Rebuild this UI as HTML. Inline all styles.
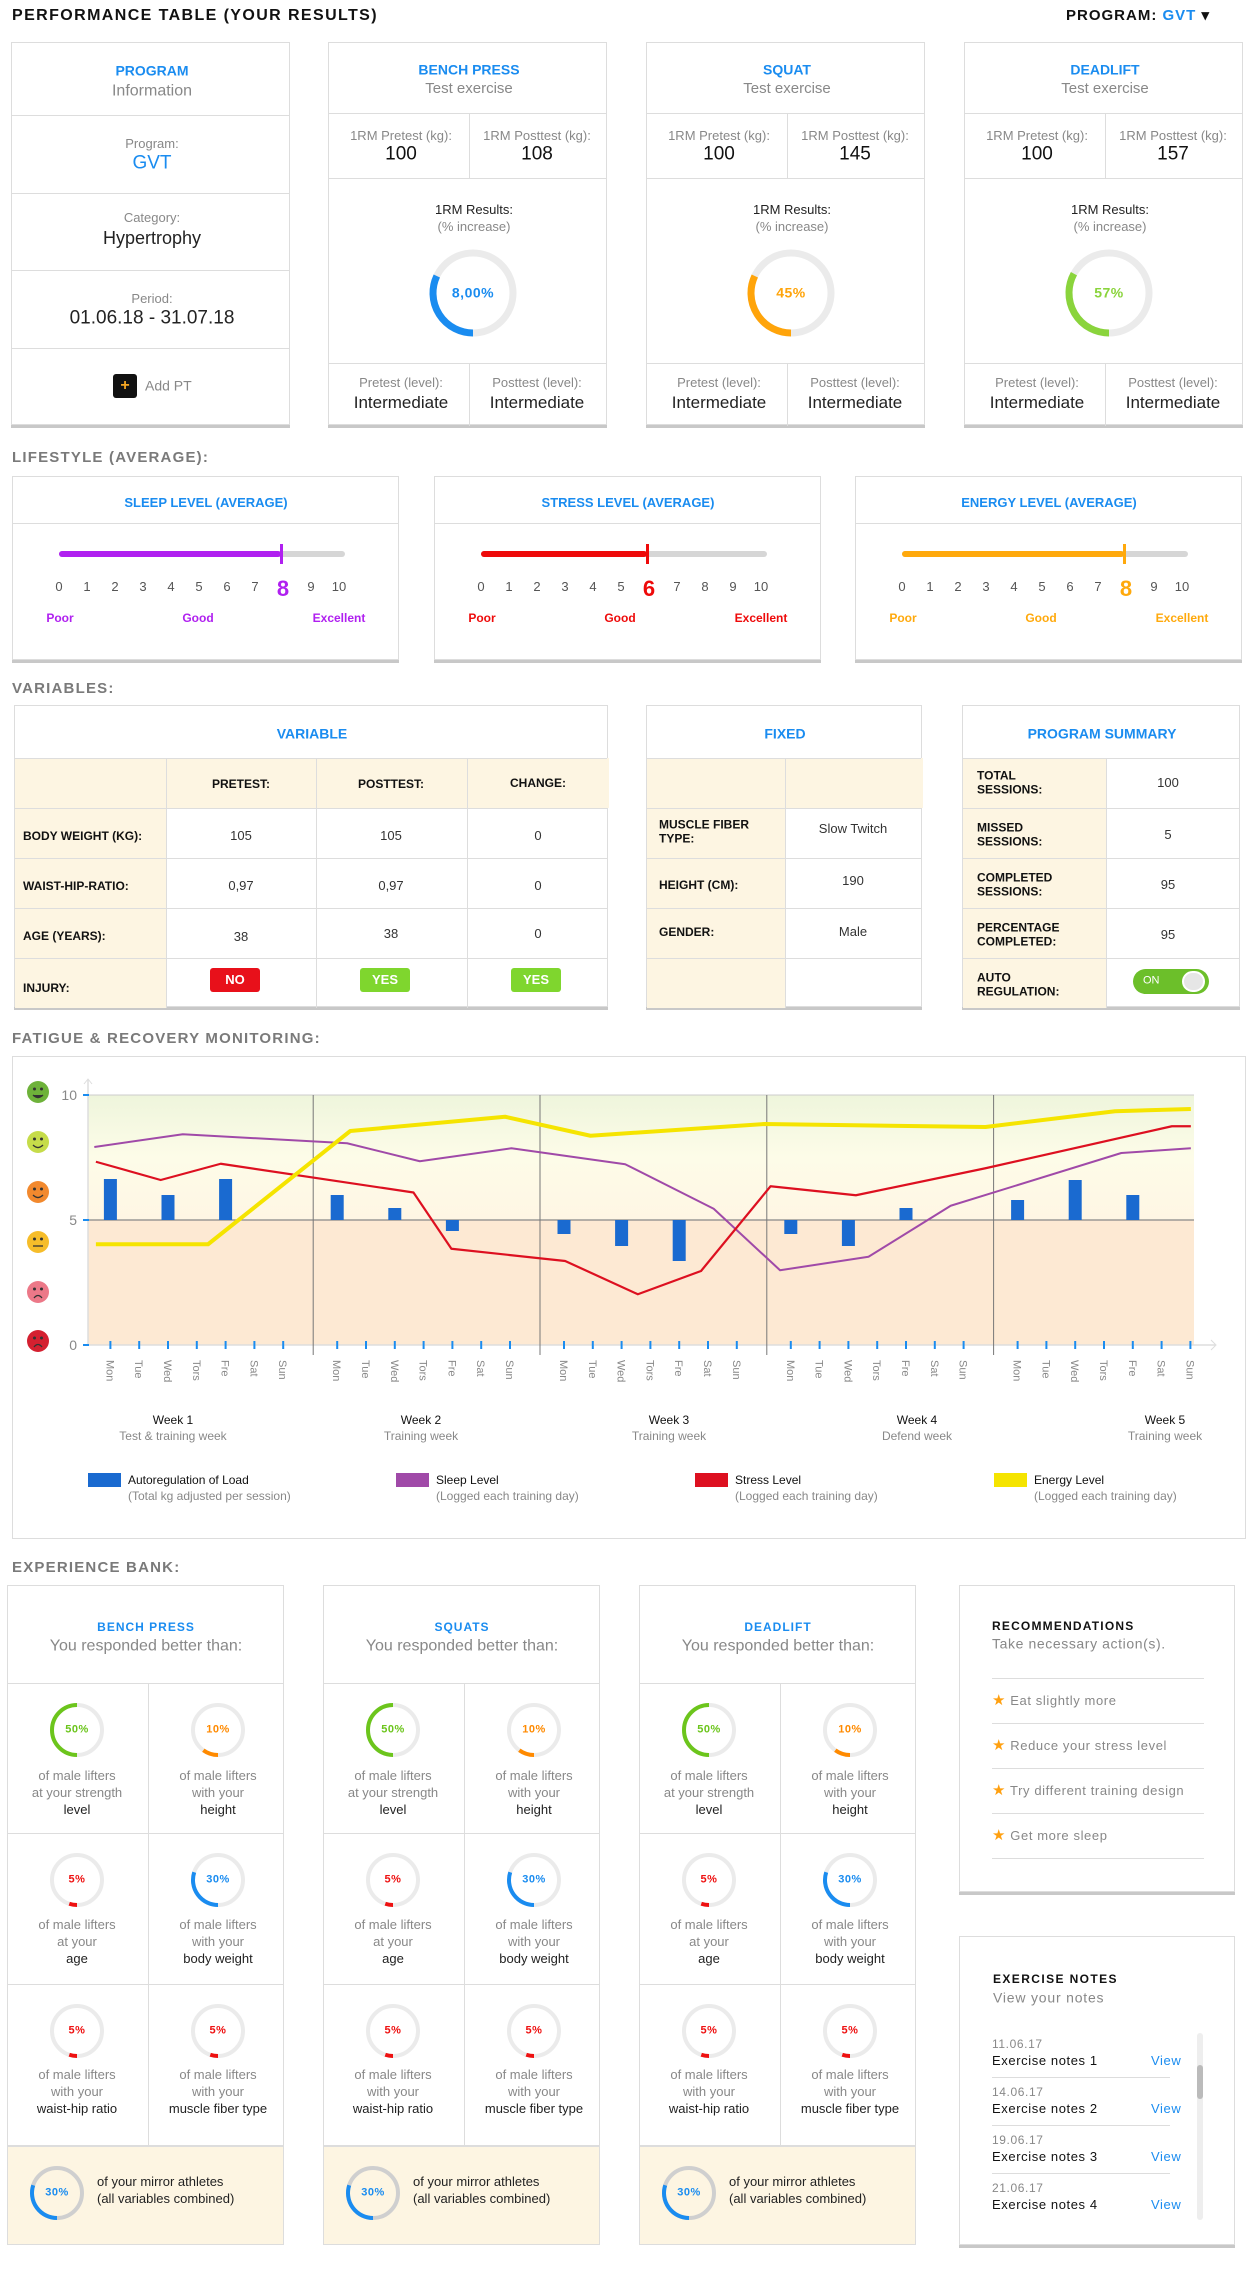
<!DOCTYPE html>
<html><head><meta charset="utf-8"><style>
*{box-sizing:border-box;margin:0;padding:0}
body{width:1250px;height:2270px;background:#fff;position:relative;overflow:hidden;font-family:"Liberation Sans Narrow","Liberation Sans",sans-serif;color:#222}
.a{position:absolute}
.t{position:absolute;white-space:nowrap;transform:translate(-50%,-50%);text-align:center;line-height:1.2}
.tl{position:absolute;white-space:nowrap;transform:translateY(-50%);line-height:1.2}
.card{position:absolute;background:#fff;border:1px solid #ddd;box-shadow:0 3px 0 #c8c8c8}
.h{font-family:"Liberation Sans",sans-serif;font-weight:bold;letter-spacing:1px}
.sec{position:absolute;left:12px;font-family:"Liberation Sans",sans-serif;font-weight:bold;color:#7a7a7a;font-size:15px;letter-spacing:1.2px}
.blue{color:#1a8cf0}
.gray{color:#888}
.hl{position:absolute;height:1px;background:#ddd}
.vl{position:absolute;width:1px;background:#ddd}
.cream{position:absolute;background:#fdf5e2}
.lab{font-size:13px;color:#888}
.val{font-size:19px;color:#111}
.cell{font-size:12px;font-weight:bold;color:#111}
.tv{font-size:13px;color:#333}
</style></head><body>

<!-- Header -->
<div class="a h" style="left:12px;top:7px;font-size:16px;color:#111;letter-spacing:1.4px">PERFORMANCE TABLE (YOUR RESULTS)</div>
<div class="a h" style="left:1066px;top:6px;font-size:15px;color:#111;letter-spacing:1px">PROGRAM: <span class="blue">GVT</span> ▾</div>

<!-- Program info card -->
<div class="card" style="left:11px;top:42px;width:279px;height:383px">
 <div class="hl" style="left:0;right:0;top:72px"></div>
 <div class="hl" style="left:0;right:0;top:150px"></div>
 <div class="hl" style="left:0;right:0;top:227px"></div>
 <div class="hl" style="left:0;right:0;top:305px"></div>
 <div class="t h blue" style="left:140px;top:28px;font-size:14px;letter-spacing:0">PROGRAM</div>
 <div class="t gray" style="left:140px;top:48px;font-size:16px">Information</div>
 <div class="t lab" style="left:140px;top:101px">Program:</div>
 <div class="t blue" style="left:140px;top:121px;font-size:19px">GVT</div>
 <div class="t lab" style="left:140px;top:175px">Category:</div>
 <div class="t" style="left:140px;top:196px;font-size:18px">Hypertrophy</div>
 <div class="t lab" style="left:140px;top:256px">Period:</div>
 <div class="t" style="left:140px;top:276px;font-size:19px">01.06.18 - 31.07.18</div>
 <div class="a" style="left:101px;top:331px;width:24px;height:24px;background:#111;border-radius:3px;color:#f5a623;font-weight:bold;font-size:16px;text-align:center;line-height:24px">+</div>
 <div class="tl gray" style="left:133px;top:343px;font-size:14px">Add PT</div>
</div>

<!-- Exercise cards -->
<div id="excards"></div>

<!-- Lifestyle -->
<div class="sec" style="top:449px">LIFESTYLE (AVERAGE):</div>
<div id="lifestyle"></div>

<!-- Variables -->
<div class="sec" style="top:680px">VARIABLES:</div>

<div class="card" style="left:14px;top:705px;width:594px;height:302px">
 <div class="cream" style="left:0;top:52px;width:594px;height:50px"></div>
 <div class="cream" style="left:0;top:52px;width:151px;height:250px"></div>
 <div class="hl" style="left:0;right:0;top:52px"></div><div class="hl" style="left:0;right:0;top:102px"></div>
 <div class="hl" style="left:0;right:0;top:152px"></div><div class="hl" style="left:0;right:0;top:202px"></div><div class="hl" style="left:0;right:0;top:252px"></div>
 <div class="vl" style="left:151px;top:52px;height:250px"></div><div class="vl" style="left:301px;top:52px;height:250px"></div><div class="vl" style="left:452px;top:52px;height:250px"></div>
 <div class="t h blue" style="left:297px;top:28px;font-size:14px;letter-spacing:0">VARIABLE</div>
 <div class="t cell" style="left:226px;top:78px">PRETEST:</div><div class="t cell" style="left:376px;top:78px">POSTTEST:</div><div class="t cell" style="left:523px;top:77px">CHANGE:</div>
 <div class="tl cell" style="left:8px;top:130px">BODY WEIGHT (KG):</div><div class="t tv" style="left:226px;top:130px">105</div><div class="t tv" style="left:376px;top:130px">105</div><div class="t tv" style="left:523px;top:130px">0</div>
 <div class="tl cell" style="left:8px;top:180px">WAIST-HIP-RATIO:</div><div class="t tv" style="left:226px;top:180px">0,97</div><div class="t tv" style="left:376px;top:180px">0,97</div><div class="t tv" style="left:523px;top:180px">0</div>
 <div class="tl cell" style="left:8px;top:230px">AGE (YEARS):</div><div class="t tv" style="left:226px;top:231px">38</div><div class="t tv" style="left:376px;top:228px">38</div><div class="t tv" style="left:523px;top:228px">0</div>
 <div class="tl cell" style="left:8px;top:282px">INJURY:</div>
 <div class="t" style="left:220px;top:274px;width:50px;height:24px;background:#e8101a;color:#fff;font-weight:bold;font-size:13px;line-height:24px;border-radius:3px;transform:translate(-50%,-50%)">NO</div>
 <div class="t" style="left:370px;top:274px;width:50px;height:24px;background:#7fd62e;color:#fff;font-weight:bold;font-size:13px;line-height:24px;border-radius:3px">YES</div>
 <div class="t" style="left:521px;top:274px;width:50px;height:24px;background:#7fd62e;color:#fff;font-weight:bold;font-size:13px;line-height:24px;border-radius:3px">YES</div>
</div>

<div class="card" style="left:646px;top:705px;width:276px;height:302px">
 <div class="cream" style="left:0;top:52px;width:276px;height:50px"></div>
 <div class="cream" style="left:0;top:52px;width:138px;height:250px"></div>
 <div class="hl" style="left:0;right:0;top:52px"></div><div class="hl" style="left:0;right:0;top:102px"></div>
 <div class="hl" style="left:0;right:0;top:152px"></div><div class="hl" style="left:0;right:0;top:202px"></div><div class="hl" style="left:0;right:0;top:252px"></div>
 <div class="vl" style="left:138px;top:52px;height:250px"></div>
 <div class="t h blue" style="left:138px;top:28px;font-size:14px;letter-spacing:0">FIXED</div>
 <div class="tl cell" style="left:12px;top:126px">MUSCLE FIBER<br>TYPE:</div><div class="t tv" style="left:206px;top:123px">Slow Twitch</div>
 <div class="tl cell" style="left:12px;top:179px">HEIGHT (CM):</div><div class="t tv" style="left:206px;top:175px">190</div>
 <div class="tl cell" style="left:12px;top:226px">GENDER:</div><div class="t tv" style="left:206px;top:226px">Male</div>
</div>

<div class="card" style="left:962px;top:705px;width:278px;height:302px">
 <div class="cream" style="left:0;top:52px;width:143px;height:250px"></div>
 <div class="hl" style="left:0;right:0;top:52px"></div><div class="hl" style="left:0;right:0;top:102px"></div>
 <div class="hl" style="left:0;right:0;top:152px"></div><div class="hl" style="left:0;right:0;top:202px"></div><div class="hl" style="left:0;right:0;top:252px"></div>
 <div class="vl" style="left:143px;top:52px;height:250px"></div>
 <div class="t h blue" style="left:139px;top:28px;font-size:14px;letter-spacing:0">PROGRAM SUMMARY</div>
 <div class="tl cell" style="left:14px;top:77px">TOTAL<br>SESSIONS:</div><div class="t tv gray" style="left:205px;top:77px">100</div>
 <div class="tl cell" style="left:14px;top:129px">MISSED<br>SESSIONS:</div><div class="t tv gray" style="left:205px;top:129px">5</div>
 <div class="tl cell" style="left:14px;top:179px">COMPLETED<br>SESSIONS:</div><div class="t tv gray" style="left:205px;top:179px">95</div>
 <div class="tl cell" style="left:14px;top:229px">PERCENTAGE<br>COMPLETED:</div><div class="t tv gray" style="left:205px;top:229px">95</div>
 <div class="tl cell" style="left:14px;top:279px">AUTO<br>REGULATION:</div>
 <div class="a" style="left:170px;top:263px;width:76px;height:25px;border-radius:13px;background:#6cbf2a">
  <div class="tl" style="left:10px;top:12px;color:#fff;font-size:11px">ON</div>
  <div class="a" style="left:49px;top:2px;width:23px;height:21px;border-radius:11px;background:#e6e6e6;border:2px solid #fff"></div>
 </div>
</div>

<!-- Fatigue chart -->
<div class="sec" style="top:1030px">FATIGUE &amp; RECOVERY MONITORING:</div>
<div class="a" style="left:12px;top:1056px;width:1234px;height:483px;border:1px solid #ddd"></div>
<svg id="chart" class="a" style="left:0;top:1050px" width="1250" height="500" viewBox="0 1050 1250 500">
 <defs><linearGradient id="gU" x1="0" y1="0" x2="0" y2="1"><stop offset="0" stop-color="#eef5dc"/><stop offset="0.5" stop-color="#fdfce8"/><stop offset="1" stop-color="#fff6e4"/></linearGradient></defs>
</svg>

<!-- Experience bank -->
<div class="sec" style="top:1559px">EXPERIENCE BANK:</div>
<div id="exp"></div>

<div class="card" style="left:959px;top:1585px;width:276px;height:307px">
 <div class="tl h" style="left:32px;top:40px;font-size:12px;color:#111;letter-spacing:1.2px">RECOMMENDATIONS</div>
 <div class="tl gray" style="left:32px;top:58px;font-size:14px;letter-spacing:0.6px">Take necessary action(s).</div>
 <div id="recs"></div>
</div>

<div class="card" style="left:959px;top:1936px;width:276px;height:309px">
 <div class="tl h" style="left:33px;top:42px;font-size:12px;color:#111;letter-spacing:1.4px">EXERCISE NOTES</div>
 <div class="tl gray" style="left:33px;top:61px;font-size:14px;letter-spacing:0.8px">View your notes</div>
 <div id="notes"></div>
 <div class="a" style="left:237px;top:96px;width:6px;height:187px;background:#eee;border-radius:3px"></div>
 <div class="a" style="left:237px;top:128px;width:6px;height:34px;background:#bbb;border-radius:3px"></div>
</div>

<script>
// ---------- exercise cards ----------
const exNames=['BENCH PRESS','SQUAT','DEADLIFT'];
const exPre=[100,100,100];
const exPost=[108,145,157];
const exPct=['8,00%','45%','57%'];
const exArc=[0.32,0.32,0.33];
const exColors=['#1a8cf0','#ffa40a','#8ad43c'];
const exLeft=[328,646,964];
function arcPath(cx,cy,r,frac){
 // start at bottom, clockwise (bottom->left->top)
 const a0=Math.PI/2, a1=Math.PI/2+frac*2*Math.PI;
 const x0=cx+r*Math.cos(a0),y0=cy+r*Math.sin(a0),x1=cx+r*Math.cos(a1),y1=cy+r*Math.sin(a1);
 if(frac>=0.999) return `M${cx} ${cy-r}A${r} ${r} 0 1 1 ${cx-0.01} ${cy-r}`;
 return `M${x0} ${y0}A${r} ${r} 0 ${frac>0.5?1:0} 1 ${x1} ${y1}`;
}
function ring(cx,cy,r,w,frac,col,bg){
 return `<svg class="a" style="left:${cx-r-w}px;top:${cy-r-w}px" width="${2*r+2*w}" height="${2*r+2*w}" viewBox="${cx-r-w} ${cy-r-w} ${2*r+2*w} ${2*r+2*w}"><circle cx="${cx}" cy="${cy}" r="${r}" fill="none" stroke="${bg}" stroke-width="${w}"/><path d="${arcPath(cx,cy,r,frac)}" fill="none" stroke="${col}" stroke-width="${w}"/></svg>`;
}
let h='';
exNames.forEach((n,i)=>{
 h+=`<div class="card" style="left:${exLeft[i]}px;top:42px;width:279px;height:383px">
 <div class="hl" style="left:0;right:0;top:70px"></div><div class="hl" style="left:0;right:0;top:135px"></div><div class="hl" style="left:0;right:0;top:320px"></div>
 <div class="vl" style="left:140px;top:70px;height:65px"></div><div class="vl" style="left:140px;top:320px;height:63px"></div>
 <div class="t h blue" style="left:140px;top:27px;font-size:14px;letter-spacing:0">${n}</div>
 <div class="t gray" style="left:140px;top:46px;font-size:15px">Test exercise</div>
 <div class="t lab" style="left:72px;top:93px">1RM Pretest (kg):</div><div class="t val" style="left:72px;top:112px">${exPre[i]}</div>
 <div class="t lab" style="left:208px;top:93px">1RM Posttest (kg):</div><div class="t val" style="left:208px;top:112px">${exPost[i]}</div>
 <div class="t" style="left:145px;top:167px;font-size:13px">1RM Results:</div>
 <div class="t lab" style="left:145px;top:184px">(% increase)</div>
 ${ring(144,250,40,7,exArc[i],exColors[i],'#ebebeb')}
 <div class="t h" style="left:144px;top:250px;font-size:14px;color:${exColors[i]};letter-spacing:0.5px">${exPct[i]}</div>
 <div class="t lab" style="left:72px;top:340px">Pretest (level):</div><div class="t" style="left:72px;top:360px;font-size:17px">Intermediate</div>
 <div class="t lab" style="left:208px;top:340px">Posttest (level):</div><div class="t" style="left:208px;top:360px;font-size:17px">Intermediate</div>
 </div>`;
});
document.getElementById('excards').innerHTML=h;
document.querySelectorAll('#excards .card').forEach(c=>{});

// ---------- lifestyle ----------
const lsNames=['SLEEP LEVEL (AVERAGE)','STRESS LEVEL (AVERAGE)','ENERGY LEVEL (AVERAGE)'];
const lsValues=[8,6,8];
const lsColors=['#b020f0','#ee0a0a','#ffa90c'];
const lsLeft=[12,434,855];
h='';
lsNames.forEach((n,i)=>{
 const bx=46,bw=286,fx=bx+bw*lsValues[i]/10*0.97;
 let nums='';
 for(let k=0;k<=10;k++){
  const x=bx+k*28;
  const big=k===lsValues[i];
  nums+=`<div class="t" style="left:${x}px;top:${big?112:110}px;font-size:${big?22:13}px;${big?'font-weight:bold;color:'+lsColors[i]:'color:#555'}">${k}</div>`;
 }
 h+=`<div class="card" style="left:${lsLeft[i]}px;top:476px;width:387px;height:184px">
 <div class="hl" style="left:0;right:0;top:46px"></div>
 <div class="t h blue" style="left:193px;top:26px;font-size:13px;letter-spacing:0">${n}</div>
 <div class="a" style="left:${bx}px;top:74px;width:${bw}px;height:6px;border-radius:3px;background:#d6d6d6"></div>
 <div class="a" style="left:${bx}px;top:74px;width:${fx-bx}px;height:6px;border-radius:3px;background:${lsColors[i]}"></div>
 <div class="a" style="left:${fx-1}px;top:67px;width:3px;height:20px;background:${lsColors[i]}"></div>
 ${nums}
 <div class="t h" style="left:47px;top:141px;font-size:12px;letter-spacing:0;color:${lsColors[i]}">Poor</div>
 <div class="t h" style="left:185px;top:141px;font-size:12px;letter-spacing:0;color:${lsColors[i]}">Good</div>
 <div class="t h" style="left:326px;top:141px;font-size:12px;letter-spacing:0;color:${lsColors[i]}">Excellent</div>
 </div>`;
});
document.getElementById('lifestyle').innerHTML=h;

// ---------- experience bank ----------
const ebNames=['BENCH PRESS','SQUATS','DEADLIFT'];
const ebLeft=[7,323,639];
const ebPcts=[50,10,5,30,5,5];
const ebColors=['#6cc51c','#ff8a00','#ee1111','#1a8cf0','#ee1111','#ee1111'];
const ebTexts=[['of male lifters','at your strength','level'],['of male lifters','with your','height'],['of male lifters','at your','age'],['of male lifters','with your','body weight'],['of male lifters','with your','waist-hip ratio'],['of male lifters','with your','muscle fiber type']];
const mirrorPct=30;
h='';
const rowTop=[0,97,247,398],rowRing=[144,294,445],rowTxt=[190,339,489];
ebNames.forEach((n,i)=>{
 let cells='';
 ebPcts.forEach((p,k)=>{
  const r=Math.floor(k/2),c=k%2,cx=c?210:69;
  cells+=ring(cx,rowRing[r],25,4,p/100,ebColors[k],'#ebebeb');
  cells+=`<div class="t h" style="left:${cx}px;top:${rowRing[r]}px;font-size:11px;letter-spacing:0.5px;color:${ebColors[k]}">${p}%</div>`;
  ebTexts[k].forEach((tx,j)=>{cells+=`<div class="t" style="left:${cx}px;top:${rowTxt[r]+j*17}px;font-size:13px;color:${j===2?'#222':'#888'}">${tx}</div>`;});
 });
 h+=`<div class="card" style="left:${ebLeft[i]}px;top:1585px;width:277px;height:660px;box-shadow:none">
 <div class="cream" style="left:0;top:559px;width:275px;height:99px"></div>
 <div class="hl" style="left:0;right:0;top:97px"></div><div class="hl" style="left:0;right:0;top:247px"></div><div class="hl" style="left:0;right:0;top:398px"></div><div class="hl" style="left:0;right:0;top:559px;height:2px"></div>
 <div class="vl" style="left:140px;top:97px;height:462px"></div>
 <div class="t h blue" style="left:138px;top:41px;font-size:12px;letter-spacing:1px">${n}</div>
 <div class="t gray" style="left:138px;top:60px;font-size:16px">You responded better than:</div>
 ${cells}
 ${ring(49,607,25,4,mirrorPct/100,'#1a8cf0','#cfcfcf')}
 <div class="t h" style="left:49px;top:607px;font-size:11px;letter-spacing:0.5px;color:#1a8cf0">${mirrorPct}%</div>
 <div class="tl" style="left:89px;top:596px;font-size:13px">of your mirror athletes</div>
 <div class="tl" style="left:89px;top:613px;font-size:13px">(all variables combined)</div>
 </div>`;
});
document.getElementById('exp').innerHTML=h;

// recommendations
const recs=['Eat slightly more','Reduce your stress level','Try different training design','Get more sleep'];
h='';
recs.forEach((r,i)=>{
 h+=`<div class="hl" style="left:32px;width:212px;top:${92+i*45}px"></div>`;
 h+=`<div class="tl" style="left:32px;top:${115+i*45}px;font-size:13px;color:#888;letter-spacing:0.6px"><span style="color:#ffa010;font-size:15px">★</span> ${r}</div>`;
});
h+=`<div class="hl" style="left:32px;width:212px;top:272px"></div>`;
document.getElementById('recs').innerHTML=h;

// notes
const noteDates=['11.06.17','14.06.17','19.06.17','21.06.17'];
const noteNames=['Exercise notes 1','Exercise notes 2','Exercise notes 3','Exercise notes 4'];
h='';
noteDates.forEach((d,i)=>{
 const y=107+i*48;
 h+=`<div class="tl" style="left:32px;top:${y}px;font-size:12px;color:#888;letter-spacing:0.6px">${d}</div>`;
 h+=`<div class="tl" style="left:32px;top:${y+17}px;font-size:13px;color:#111;letter-spacing:0.6px">${noteNames[i]}</div>`;
 h+=`<div class="tl blue" style="left:191px;top:${y+17}px;font-size:13px;letter-spacing:0.6px">View</div>`;
 if(i<3) h+=`<div class="hl" style="left:32px;width:178px;top:${y+33}px"></div>`;
});
document.getElementById('notes').innerHTML=h;

// ---------- chart ----------
const dayNames=['Mon','Tue','Wed','Tors','Fre','Sat','Sun'];
const weekLabels=['Week 1','Week 2','Week 3','Week 4','Week 5'];
const weekSubs=['Test & training week','Training week','Training week','Defend week','Training week'];
const yTicks=[0,5,10];
const loadDays=[0,2,4,7,9,11,14,16,18,21,23,25,28,30,32];
const loadValues=[1.64,1.0,1.64,1.0,0.48,-0.44,-0.56,-1.04,-1.64,-0.56,-1.04,0.48,0.8,1.6,1.0];
const energyT=[0.25,3.8,8.3,13.2,15.9,21.4,28.4,32.5,34.9];
const energyV=[4.03,4.03,8.56,9.13,8.37,8.84,8.72,9.35,9.44];
const stressT=[0.25,2.3,4.2,10.3,11.5,15.1,17.4,19.4,21.6,24.3,28.4,34.3,34.9];
const stressV=[7.33,6.6,7.25,6.1,3.85,3.36,2.03,2.96,6.35,5.99,7.07,8.75,8.75];
const sleepT=[0.2,3.0,8.2,10.5,13.4,17.0,19.8,21.9,24.7,27.3,32.7,34.9];
const sleepV=[7.92,8.43,8.07,7.35,7.87,7.23,5.45,2.99,3.53,5.57,7.68,7.87];
const legendNames=['Autoregulation of Load','Sleep Level','Stress Level','Energy Level'];
const legendSubs=['(Total kg adjusted per session)','(Logged each training day)','(Logged each training day)','(Logged each training day)'];

const X0=88,X1=1194,Y0=1345,PU=25;
const yS=v=>Y0-v*PU;
const dayX=i=>110.4+226.8*Math.floor(i/7)+28.8*(i%7);
const tX=t=>X0+t*(X1-X0)/35;
const svg=document.getElementById('chart');
const NS='http://www.w3.org/2000/svg';
function el(tag,attrs,parent){const e=document.createElementNS(NS,tag);for(const k in attrs)e.setAttribute(k,attrs[k]);(parent||svg).appendChild(e);return e;}

let e;
e=el('rect',{x:X0,y:yS(10),width:X1-X0,height:yS(5)-yS(10),fill:'url(#gU)'});


e=el('rect',{x:X0,y:yS(5),width:X1-X0,height:yS(0)-yS(5),fill:'#fde9d3'});


el('line',{x1:X0,y1:yS(10),x2:X1,y2:yS(10),stroke:'#ccc','stroke-width':1});
el('line',{x1:X0,y1:yS(5),x2:X1,y2:yS(5),stroke:'#888','stroke-width':1.2});
// axes
el('line',{x1:X0,y1:1080,x2:X0,y2:Y0,stroke:'#ddd','stroke-width':1.5});
el('path',{d:`M${X0-4} 1084L${X0} 1079L${X0+4} 1084`,fill:'none',stroke:'#ddd'});
el('line',{x1:X0,y1:Y0,x2:1215,y2:Y0,stroke:'#ddd','stroke-width':1.5});
el('path',{d:`M1211 ${Y0-5}L1216 ${Y0}L1211 ${Y0+5}`,fill:'none',stroke:'#ddd'});
// week dividers
for(let w=1;w<5;w++){
 const x=(dayX(w*7-1)+dayX(w*7))/2+3;
 e=el('line',{x1:x,y1:yS(10),x2:x,y2:1355,stroke:'#777','stroke-width':1});
 
 
}
// y ticks
yTicks.forEach(v=>{
 el('line',{x1:X0-5,y1:yS(v),x2:X0+1,y2:yS(v),stroke:'#1a8cf0','stroke-width':2});
 e=el('text',{x:77,y:yS(v)+5,'text-anchor':'end','font-size':14,fill:'#888','font-family':'Liberation Sans'});
 e.textContent=v;
 
 
});
// faces
const faceColors=['#d42030','#ec7888','#f6bd2a','#f2892e','#c6dc4a','#6eb23a'];
faceColors.forEach((c,i)=>{
 const cy=yS(i*2)-3+ (i===0?-1:0), cx=38;
 const g=el('g',{});
 
 
 el('circle',{cx,cy,r:11,fill:c},g);
 el('circle',{cx:cx-3.5,cy:cy-3,r:1.5,fill:'#333'},g);
 el('circle',{cx:cx+3.5,cy:cy-3,r:1.5,fill:'#333'},g);
 let d;
 if(i<=1) d=`M${cx-4} ${cy+6}Q${cx} ${cy+1} ${cx+4} ${cy+6}`;
 else if(i===2) d=`M${cx-5} ${cy+4}L${cx+5} ${cy+4}`;
 else d=`M${cx-5} ${cy+3}Q${cx} ${cy+8} ${cx+5} ${cy+3}`;
 el('path',{d,fill:i===5?'#333':'none',stroke:'#333','stroke-width':1.3},g);
});
// day ticks + labels
for(let i=0;i<35;i++){
 const x=dayX(i);
 el('line',{x1:x,y1:Y0-4,x2:x,y2:Y0+4,stroke:'#1a8cf0','stroke-width':2});
 e=el('text',{x:x-4,y:1360,'font-size':11,fill:'#888','font-family':'Liberation Sans',transform:`rotate(90 ${x-4} 1360)`});
 e.textContent=dayNames[i%7];
 
 
}
// bars
loadDays.forEach((d,i)=>{
 const v=loadValues[i],x=dayX(d);
 const y1=yS(5+Math.max(v,0)),y2=yS(5+Math.min(v,0));
 e=el('rect',{x:x-6.5,y:y1,width:13,height:y2-y1,fill:'#1a6ad0'});
 
 
});
function line(T,V,col,w,name){
 const p=el('polyline',{points:T.map((t,i)=>tX(t)+','+yS(V[i])).join(' '),fill:'none',stroke:col,'stroke-width':w,'stroke-linejoin':'round'});
 
 
}
line(sleepT,sleepV,'#a04aa8',2,'sleep-line');
line(stressT,stressV,'#dd1020',2.2,'stress-line');
line(energyT,energyV,'#f5e400',4,'energy-line');
// week labels
const wkC=[173,421,669,917,1165];
weekLabels.forEach((w,i)=>{
 e=el('text',{x:wkC[i],y:1424,'text-anchor':'middle','font-size':12,fill:'#111','font-family':'Liberation Sans Narrow, Liberation Sans'});
 e.textContent=w;
 
 
 e=el('text',{x:wkC[i],y:1440,'text-anchor':'middle','font-size':12,fill:'#888','font-family':'Liberation Sans Narrow, Liberation Sans'});
 e.textContent=weekSubs[i];
 
 
});
// legend
const legX=[88,396,695,994];
const legCols=['#1a6ad0','#a04aa8','#dd1020','#f5e400'];
legendNames.forEach((n,i)=>{
 const g=el('g',{});
 
 
 el('rect',{x:legX[i],y:1473,width:33,height:14,fill:legCols[i]},g);
 const t=el('text',{x:legX[i]+40,y:1484,'font-size':12,fill:'#111','font-family':'Liberation Sans Narrow, Liberation Sans'},g);
 t.textContent=n;
 const s=el('text',{x:legX[i]+40,y:1500,'font-size':12,fill:'#888','font-family':'Liberation Sans Narrow, Liberation Sans'},g);
 s.textContent=legendSubs[i];
});
</script>
</body></html>
